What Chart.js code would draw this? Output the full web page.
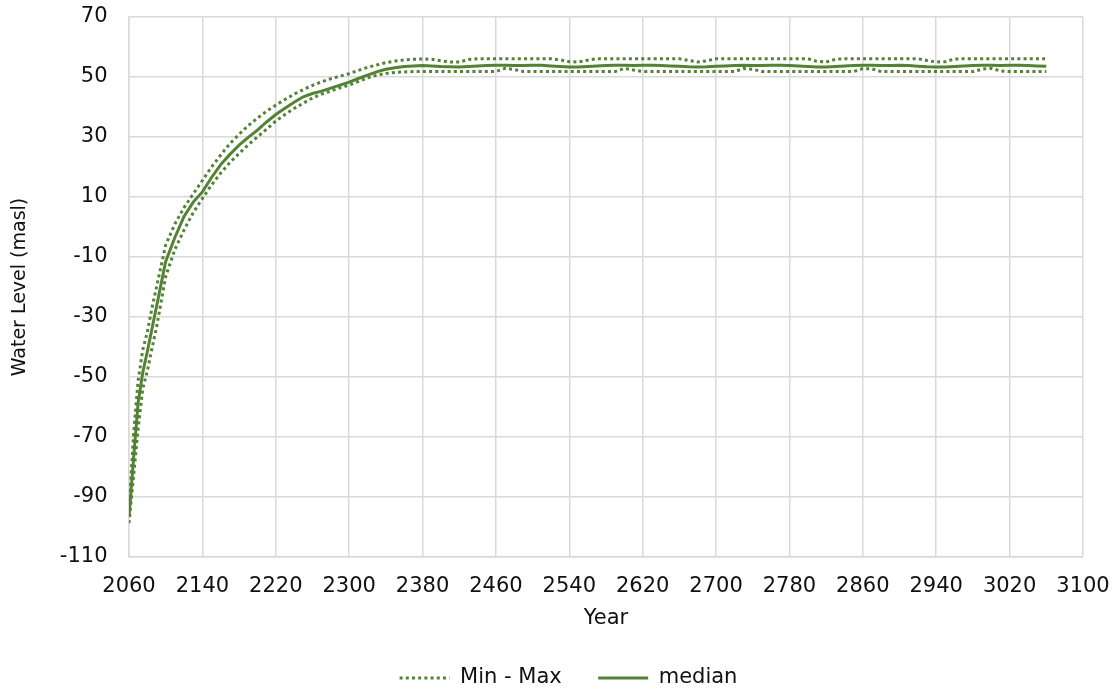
<!DOCTYPE html>
<html>
<head>
<meta charset="utf-8">
<title>Water Level</title>
<script src="https://cdn.jsdelivr.net/npm/chart.js@4.4.0/dist/chart.umd.min.js"></script>
<style>
  html, body { margin: 0; padding: 0; background: #fff; }
  #wrap { width: 1117px; height: 695px; position: relative; }
</style>
</head>
<body>
<div id="wrap"><canvas id="levelChart"></canvas></div>
<script>
// simulated lake level, yearly ensemble summary
const years = [
  2060, 2065, 2070, 2075, 2080, 2085, 2090,
  2100, 2110, 2120, 2130, 2140, 2150, 2160, 2170, 2180, 2190,
  2200, 2210, 2220, 2230, 2240, 2250, 2260, 2270, 2280, 2290,
  2300, 2310, 2320, 2330, 2340, 2350, 2360, 2370, 2380, 2390,
  2400, 2410, 2420, 2430, 2440, 2450, 2460, 2470, 2480, 2490,
  2500, 2510, 2520, 2530, 2540, 2550, 2560, 2570, 2580, 2590,
  2600, 2610, 2620, 2630, 2640, 2650, 2660, 2670, 2680, 2690,
  2700, 2710, 2720, 2730, 2740, 2750, 2760, 2770, 2780, 2790,
  2800, 2810, 2820, 2830, 2840, 2850, 2860, 2870, 2880, 2890,
  2900, 2910, 2920, 2930, 2940, 2950, 2960, 2970, 2980, 2990,
  3000, 3010, 3020, 3030, 3040, 3050, 3060
];

const medianLevel = [
  -96.7, -77, -58.5, -48.5, -41.5, -34, -26.5,
  -11.5, -3.5, 3.5, 8.3, 11.7, 16.5, 20.8, 24.2, 27.3, 29.9,
  32.3, 35, 37.5, 39.6, 41.6, 43.4, 44.5, 45.3, 46.3, 47.3,
  48.3, 49.5, 50.6, 51.7, 52.6, 53.1, 53.5, 53.7, 53.8, 53.7,
  53.5, 53.4, 53.3, 53.5, 53.7, 53.8, 53.9, 53.9, 53.8, 53.8,
  53.9, 53.9, 53.7, 53.5, 53.3, 53.3, 53.5, 53.7, 53.8, 53.9,
  53.9, 53.8, 53.9, 53.9, 53.8, 53.7, 53.6, 53.4, 53.3, 53.4,
  53.6, 53.7, 53.8, 53.9, 53.8, 53.8, 53.9, 53.9, 53.8, 53.7,
  53.5, 53.3, 53.3, 53.5, 53.7, 53.8, 53.9, 53.9, 53.8, 53.8,
  53.9, 53.8, 53.6, 53.4, 53.3, 53.3, 53.5, 53.7, 53.8, 53.9,
  53.9, 53.8, 53.9, 53.9, 53.8, 53.7, 53.6
];

const maxLevel = [
  -94.5, -69, -51, -41, -35, -27, -20,
  -6, 1, 6.5, 11, 15.5, 20, 24, 27.8, 30.9, 33.8,
  36.3, 38.6, 40.6, 42.5, 44.3, 45.8, 47.2, 48.4, 49.4, 50.3,
  51.1, 52.2, 53.2, 54, 54.8, 55.3, 55.7, 55.9, 56, 55.9,
  55.4, 55, 55, 55.8, 56.1, 56.1, 56.1, 56.1, 56.1, 56.1,
  56.1, 56.1, 56.1, 55.7, 55.1, 55, 55.6, 56.1, 56.1, 56.1,
  56.1, 56.1, 56.1, 56.1, 56.1, 56.1, 56.1, 55.5, 55, 55.4,
  56.1, 56.1, 56.1, 56.1, 56.1, 56.1, 56.1, 56.1, 56.1, 56.1,
  56.1, 55.2, 55, 55.9, 56.1, 56.1, 56.1, 56.1, 56.1, 56.1,
  56.1, 56.1, 56.1, 55.5, 55, 55.1, 56, 56.1, 56.1, 56.1,
  56.1, 56.1, 56.1, 56.1, 56.1, 56.1, 56.1
];

const minLevel = [
  -98.7, -83, -67, -54, -48, -40.5, -33.5,
  -16.5, -7.5, -1, 4.8, 9.5, 14, 18, 21.5, 24.5, 27.4,
  30, 32.6, 35.3, 37.5, 39.5, 41.3, 43, 44.3, 45.3, 46.4,
  47.3, 48.5, 49.7, 50.6, 51.2, 51.5, 51.7, 51.8, 51.8, 51.8,
  51.8, 51.8, 51.8, 51.8, 51.8, 51.8, 51.8, 52.9, 52.5, 51.8,
  51.8, 51.8, 51.8, 51.8, 51.8, 51.8, 51.8, 51.8, 51.8, 51.8,
  52.9, 52.3, 51.8, 51.8, 51.8, 51.8, 51.8, 51.8, 51.8, 51.8,
  51.8, 51.8, 51.8, 52.8, 52.6, 51.8, 51.8, 51.8, 51.8, 51.8,
  51.8, 51.8, 51.8, 51.8, 51.8, 51.8, 52.8, 52.7, 51.8, 51.8,
  51.8, 51.8, 51.8, 51.8, 51.8, 51.8, 51.8, 51.8, 51.8, 52.6,
  52.9, 52, 51.8, 51.8, 51.8, 51.8, 51.8
];

const green = "#548235";
const gridGrey = "#d9d9d9";

Chart.defaults.font.family = "'DejaVu Sans', Verdana, sans-serif";
Chart.defaults.font.size = 21;
Chart.defaults.color = "#111";

function toPoints(values) {
  return years.map((yr, i) => ({ x: yr, y: values[i] }));
}

const dotted = {
  borderColor: green,
  backgroundColor: green,
  borderWidth: 3,
  borderDash: [3, 3.2],
  pointRadius: 0,
  fill: false,
  tension: 0,
};

// legend samples take the dataset's own line style (dash + width)
function lineLabels(chart) {
  const items = Chart.defaults.plugins.legend.labels.generateLabels(chart);
  return items.map((item) => {
    const ds = chart.data.datasets[item.datasetIndex];
    return {
      ...item,
      lineDash: ds.borderDash || [],
      lineWidth: ds.borderWidth,
      strokeStyle: ds.borderColor,
    };
  });
}

const config = {
  type: "line",
  data: {
    datasets: [
      { ...dotted, label: "Min - Max", data: toPoints(minLevel) },
      { ...dotted, label: "max", data: toPoints(maxLevel) },
      {
        label: "median",
        data: toPoints(medianLevel),
        borderColor: green,
        backgroundColor: green,
        borderWidth: 3,
        pointRadius: 0,
        fill: false,
        tension: 0,
      },
    ],
  },
  options: {
    responsive: true,
    maintainAspectRatio: false,
    animation: false,
    layout: {
      // extra left padding nudges the centred legend to the right
      padding: { left: 20, right: 0, top: 17, bottom: 0 },
    },
    plugins: {
      tooltip: { enabled: false },
      legend: {
        position: "bottom",
        maxHeight: 64,
        labels: {
          usePointStyle: true,
          pointStyle: "line",
          pointStyleWidth: 50,
          padding: 36.5,
          generateLabels: lineLabels,
          filter: (item) => item.text !== "max",
        },
      },
    },
    scales: {
      x: {
        type: "linear",
        min: 2060,
        max: 3100,
        afterFit: (scale) => {
          scale.height = 74;
          scale.paddingLeft = 0;
          scale.paddingRight = 34;
        },
        ticks: {
          stepSize: 80,
          padding: 17,
          autoSkip: false,
          maxRotation: 0,
          callback: (v) => String(v),
        },
        grid: { color: gridGrey, lineWidth: 1.5, drawTicks: false },
        border: { color: gridGrey, width: 1.5 },
        title: {
          display: true,
          text: "Year",
          padding: { top: 0, bottom: 0 },
        },
      },
      y: {
        min: -110,
        max: 70,
        afterFit: (scale) => {
          scale.width = 109;
          scale.paddingTop = 0;
          scale.paddingBottom = 0;
        },
        ticks: { stepSize: 20, padding: 21.5 },
        grid: { color: gridGrey, lineWidth: 1.5, drawTicks: false },
        border: { color: gridGrey, width: 1.5 },
        title: {
          display: true,
          text: "Water Level (masl)",
          font: { size: 19 },
          // pulls the title back into the left margin
          padding: { top: -11.4, bottom: 0 },
        },
      },
    },
  },
};

const levelChart = new Chart(document.getElementById("levelChart"), config);
</script>
</body>
</html>
